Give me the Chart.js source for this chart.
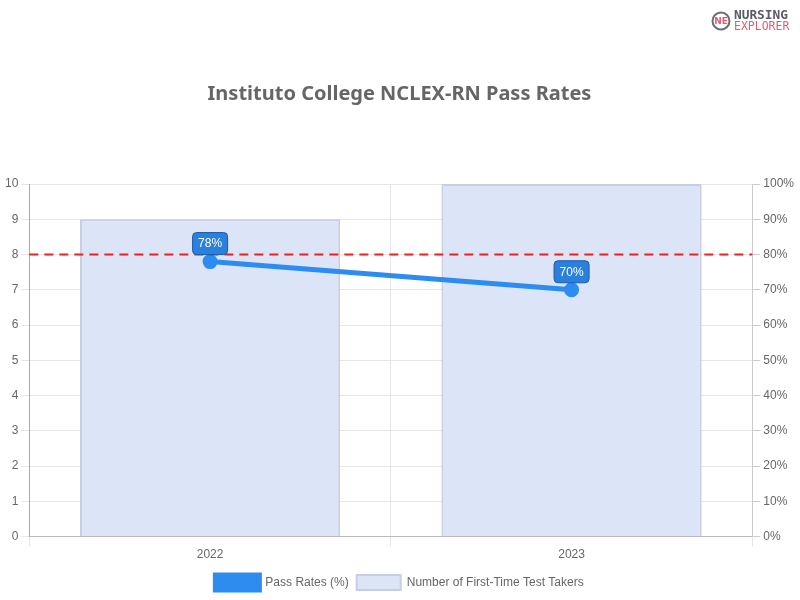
<!DOCTYPE html>
<html>
<head>
<meta charset="utf-8">
<script src="https://cdn.jsdelivr.net/npm/chart.js@4.4.0/dist/chart.umd.min.js"></script>
<style>
html,body{margin:0;padding:0;background:#fff;}
#wrap{width:800px;height:600px;}
</style>
</head>
<body>
<div id="wrap"><canvas id="c" width="800" height="600"></canvas></div>
<script>
const categories = ['2022', '2023'];
const passRates = [78, 70];
const testTakers = [9, 10];
const benchmark = 80;
const leftTicks = [0,1,2,3,4,5,6,7,8,9,10];
const chartTitle = 'Instituto College NCLEX-RN Pass Rates';

const benchmarkPlugin = {
  id: 'benchmark',
  afterDatasetsDraw(chart) {
    const {ctx, chartArea, scales} = chart;
    const y = scales.y1.getPixelForValue(benchmark);
    ctx.save();
    ctx.strokeStyle = '#ff1a1a';
    ctx.lineWidth = 2;
    ctx.setLineDash([9, 6]);
    ctx.beginPath();
    ctx.moveTo(chartArea.left, y);
    ctx.lineTo(chartArea.right, y);
    ctx.stroke();
    ctx.restore();
  }
};

const labelPlugin = {
  id: 'pointLabels',
  afterDatasetsDraw(chart) {
    const {ctx} = chart;
    const meta = chart.getDatasetMeta(0);
    ctx.save();
    ctx.font = '12px "Liberation Sans", Arial, sans-serif';
    meta.data.forEach((pt, i) => {
      const txt = passRates[i] + '%';
      const w = ctx.measureText(txt).width + 11;
      const h = 22;
      const x = pt.x - w / 2;
      const y = pt.y - 7 - h;
      ctx.beginPath();
      ctx.roundRect(x, y, w, h, 4);
      ctx.fillStyle = '#2a80dc';
      ctx.fill();
      ctx.strokeStyle = '#1a5aa8';
      ctx.lineWidth = 1;
      ctx.stroke();
      ctx.fillStyle = '#ffffff';
      ctx.textAlign = 'center';
      ctx.textBaseline = 'middle';
      ctx.fillText(txt, pt.x, y + h / 2 + 0.5);
    });
    ctx.restore();
  }
};

const logoPlugin = {
  id: 'logo',
  afterDraw(chart) {
    const {ctx} = chart;
    ctx.save();
    ctx.beginPath();
    ctx.arc(721, 21, 8.5, 0, Math.PI * 2);
    ctx.strokeStyle = '#6b6b78';
    ctx.lineWidth = 2;
    ctx.stroke();
    ctx.font = 'bold 9px "DejaVu Sans", sans-serif';
    ctx.fillStyle = '#e06070';
    ctx.textAlign = 'center';
    ctx.textBaseline = 'middle';
    ctx.fillText('NE', 721, 21.5);
    ctx.textAlign = 'left';
    ctx.font = 'bold 12.8px "DejaVu Sans Mono", monospace';
    ctx.fillStyle = '#5a5a68';
    ctx.fillText('NURSING', 734, 16);
    ctx.font = '11.5px "DejaVu Sans Mono", monospace';
    ctx.fillStyle = '#e06070';
    ctx.fillText('EXPLORER', 734, 27);
    ctx.restore();
  }
};

new Chart(document.getElementById('c'), {
  data: {
    labels: categories,
    datasets: [
      {
        type: 'line',
        label: 'Pass Rates (%)',
        data: passRates,
        yAxisID: 'y1',
        borderColor: '#2d8cf0',
        backgroundColor: '#2d8cf0',
        borderWidth: 5,
        pointRadius: 5,
        pointHoverRadius: 5,
        pointBackgroundColor: '#2d8cf0',
        pointBorderColor: '#2d8cf0',
        order: 1
      },
      {
        type: 'bar',
        label: 'Number of First-Time Test Takers',
        data: testTakers,
        yAxisID: 'y',
        backgroundColor: '#dce4f7',
        borderColor: '#c9cde3',
        borderWidth: 2,
        order: 2
      }
    ]
  },
  options: {
    responsive: false,
    animation: false,
    devicePixelRatio: 1,
    layout: {padding: {left: 2, right: 3, top: 0, bottom: 0}},
    plugins: {
      title: {
        display: true,
        text: chartTitle,
        color: '#666666',
        font: {family: '"Noto Sans", "Open Sans", sans-serif', size: 20, weight: 'bold'},
        padding: {top: 82, bottom: 78}
      },
      legend: {
        position: 'bottom',
        labels: {
          color: '#666666',
          font: {family: '"Liberation Sans", Arial, sans-serif', size: 12},
          boxWidth: 44,
          boxHeight: 15,
          padding: 8
        }
      },
      tooltip: {enabled: false}
    },
    scales: {
      x: {
        grid: {color: '#e6e6e6', offset: true, tickLength: 10},
        border: {color: '#bbbbbb'},
        ticks: {color: '#666666', padding: 1, font: {family: '"Liberation Sans", Arial, sans-serif', size: 12}},
        afterFit(axis) { axis.height += 4; }
      },
      y: {
        position: 'left',
        min: 0,
        max: 10,
        afterBuildTicks(axis) { axis.ticks = leftTicks.map(v => ({value: v})); },
        grid: {color: '#e6e6e6', tickLength: 8},
        border: {color: '#aaaaaa'},
        ticks: {color: '#666666', stepSize: 1, font: {family: '"Liberation Sans", Arial, sans-serif', size: 12}}
      },
      y1: {
        position: 'right',
        min: 0,
        max: 100,
        grid: {drawOnChartArea: false, color: '#cccccc', tickLength: 8},
        border: {color: '#cccccc'},
        ticks: {color: '#666666', stepSize: 10, callback: v => v + '%', font: {family: '"Liberation Sans", Arial, sans-serif', size: 12}}
      }
    }
  },
  plugins: [benchmarkPlugin, labelPlugin, logoPlugin]
});
</script>
</body>
</html>
